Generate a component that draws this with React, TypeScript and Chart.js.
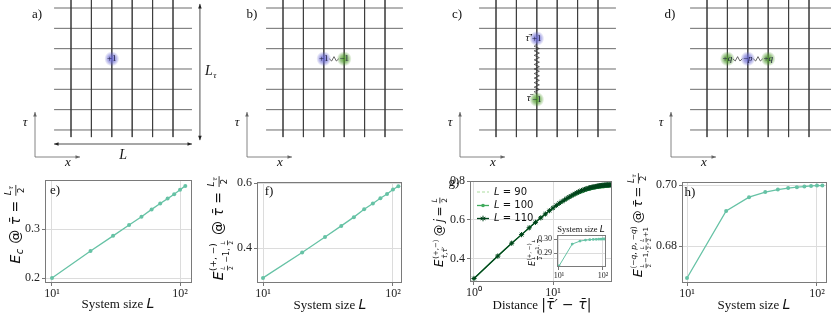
import React, { useEffect, useRef } from 'react';
import { Chart, registerables } from 'chart.js';
Chart.register(...registerables);

// ---------------- data ----------------
const SIZES = [10, 20, 30, 40, 50, 60, 70, 80, 90, 100, 110];
const E_C = [0.2, 0.255, 0.286, 0.308, 0.325, 0.34, 0.352, 0.362, 0.371, 0.38, 0.388];
const E_PM = [0.308, 0.386, 0.434, 0.468, 0.495, 0.519, 0.537, 0.553, 0.566, 0.58, 0.59];
const E_QPQ = [0.6695, 0.6915, 0.696, 0.6977, 0.6985, 0.699, 0.6993, 0.6995, 0.6997, 0.6998, 0.6998];
const E_INSET = [0.2807, 0.2964, 0.2985, 0.2992, 0.2995, 0.2997, 0.2998, 0.2999, 0.2999, 0.3, 0.3];

const DISTANCES = [1, 2, 3, 4, 5, 6, 7, 8, 9, 10, 11, 12, 13, 14, 15, 16, 17, 18, 19, 20, 21, 22, 23, 24, 25, 26, 27, 28, 29, 30, 31, 32, 33, 34, 35, 36, 37, 38, 39, 40, 41, 42, 43, 44, 45, 46, 47, 48, 49, 50, 51, 52, 53, 54, 55];
const DIST_L90 = [0.3, 0.415, 0.481, 0.525, 0.559, 0.587, 0.61, 0.629, 0.645, 0.659, 0.671, 0.681, 0.69, 0.698, 0.705, 0.711, 0.717, 0.722, 0.727, 0.731, 0.734, 0.738, 0.741, 0.743, 0.746, 0.748, 0.75, 0.752, 0.753, 0.755, 0.756, 0.757, 0.758, 0.759, 0.76, 0.761, 0.762, 0.762, 0.763, 0.763, 0.764, 0.764, 0.764, 0.765, 0.765];
const DIST_L100 = [0.3, 0.415, 0.481, 0.525, 0.56, 0.588, 0.611, 0.63, 0.647, 0.661, 0.673, 0.684, 0.693, 0.701, 0.708, 0.715, 0.721, 0.726, 0.731, 0.735, 0.739, 0.742, 0.745, 0.748, 0.751, 0.753, 0.755, 0.757, 0.759, 0.76, 0.762, 0.763, 0.764, 0.765, 0.766, 0.767, 0.768, 0.768, 0.769, 0.77, 0.77, 0.771, 0.771, 0.771, 0.772, 0.772, 0.772, 0.772, 0.772, 0.772];
const DIST_L110 = [0.3, 0.415, 0.481, 0.525, 0.56, 0.588, 0.611, 0.631, 0.648, 0.662, 0.675, 0.686, 0.695, 0.703, 0.711, 0.718, 0.724, 0.73, 0.735, 0.74, 0.744, 0.747, 0.751, 0.754, 0.756, 0.759, 0.761, 0.763, 0.765, 0.766, 0.768, 0.769, 0.77, 0.771, 0.772, 0.773, 0.774, 0.775, 0.776, 0.776, 0.777, 0.777, 0.778, 0.778, 0.779, 0.779, 0.779, 0.78, 0.78, 0.78, 0.78, 0.78, 0.78, 0.78, 0.78];
const SERIES_LABELS = ['90', '100', '110'];

const SIZE_TICKS = [10, 100];
const SIZE_TICK_LABELS = ['10¹', '10²'];
const DIST_TICKS = [1, 10];
const DIST_TICK_LABELS = ['10⁰', '10¹'];
const E_TICKS = [0.2, 0.3];
const E_TICK_LABELS = ['0.2', '0.3'];
const F_TICKS = [0.4, 0.6];
const F_TICK_LABELS = ['0.4', '0.6'];
const G_TICKS = [0.4, 0.6, 0.8];
const G_TICK_LABELS = ['0.4', '0.6', '0.8'];
const H_TICKS = [0.68, 0.7];
const H_TICK_LABELS = ['0.68', '0.70'];
const INSET_TICKS = [0.29, 0.3];
const INSET_TICK_LABELS = ['0.29', '0.30'];

// lattice (in lattice units: columns / rows counted from the top)
const LATTICE_COLS = [0, 1, 2, 3, 4, 5];
const LATTICE_ROWS = [0, 1, 2, 3, 4, 5, 6];
type Charge = { x: number; y: number; q: string; c: 'blue' | 'green' };
const CHARGES_A: Charge[] = [{ x: 2, y: 2.5, q: '+1', c: 'blue' }];
const CHARGES_B: Charge[] = [{ x: 2, y: 2.5, q: '+1', c: 'blue' }, { x: 3, y: 2.5, q: '−1', c: 'green' }];
const CHARGES_C: Charge[] = [{ x: 2, y: 1.5, q: '+1', c: 'blue' }, { x: 2, y: 4.5, q: '−1', c: 'green' }];
const CHARGES_D: Charge[] = [{ x: 1, y: 2.5, q: '+q', c: 'green' }, { x: 2, y: 2.5, q: '−p', c: 'blue' }, { x: 3, y: 2.5, q: '+q', c: 'green' }];
const SPRINGS_B = [[0, 1]];
const SPRINGS_C = [[0, 1]];
const SPRINGS_D = [[0, 1], [1, 2]];

// ---------------- styling ----------------
const SERIF = '"Liberation Serif", "Times New Roman", serif';
const SANS = '"DejaVu Sans", sans-serif';
const TEAL = '#66c2a5';
const GRID = '#dcdcdc';
const BOX = '#7a7a7a';
const G_COLORS = ['#c7e9c0', '#41ab5d', '#00441b'];

// ---------------- rich text ----------------
type Node =
  | { t: string; s: number; i?: boolean; f?: string }
  | { row: Node[] }
  | { frac: [Node, Node]; s: number }
  | { ss: [Node, Node | null, Node | null]; up: number; dn: number };
type Bx = { w: number; a: number; d: number; draw: (c: CanvasRenderingContext2D, x: number, y: number) => void };
const T = (t: string, s: number, i = false, f = SANS): Node => ({ t, s, i, f });
const R = (...row: Node[]): Node => ({ row });
const F = (a: Node, b: Node, s: number): Node => ({ frac: [a, b], s });
const SS = (b: Node, sp: Node | null, sb: Node | null, up: number, dn: number): Node => ({ ss: [b, sp, sb], up, dn });
const SP = T(' ', 8);

function lay(c: CanvasRenderingContext2D, n: Node): Bx {
  if ('t' in n) {
    const font = `${n.i ? 'italic ' : ''}${n.s}px ${n.f || SANS}`;
    c.font = font;
    const w = c.measureText(n.t).width;
    return { w, a: n.s * 0.74, d: n.s * 0.2, draw: (cc, x, y) => { cc.font = font; cc.fillText(n.t, x, y); } };
  }
  if ('row' in n) {
    const bs = n.row.map((k) => lay(c, k));
    return {
      w: bs.reduce((s, b) => s + b.w, 0),
      a: Math.max(...bs.map((b) => b.a)),
      d: Math.max(...bs.map((b) => b.d)),
      draw: (cc, x, y) => { let xx = x; for (const b of bs) { b.draw(cc, xx, y); xx += b.w; } },
    };
  }
  if ('frac' in n) {
    const nu = lay(c, n.frac[0]);
    const de = lay(c, n.frac[1]);
    const w = Math.max(nu.w, de.w) + 2;
    const ax = n.s * 0.3;
    const g = 1.2;
    return {
      w, a: ax + g + nu.a + nu.d, d: Math.max(0, -ax + g + de.a + de.d),
      draw: (cc, x, y) => {
        const yl = y - ax;
        nu.draw(cc, x + (w - nu.w) / 2, yl - g - nu.d);
        de.draw(cc, x + (w - de.w) / 2, yl + g + de.a);
        cc.fillRect(x + 0.5, yl - 0.4, w - 1, 0.8);
      },
    };
  }
  const [bn, sp, sb] = n.ss;
  const base = lay(c, bn);
  const up = sp ? lay(c, sp) : null;
  const dn = sb ? lay(c, sb) : null;
  const w = base.w + Math.max(up ? up.w : 0, dn ? dn.w : 0) + 1;
  return {
    w,
    a: Math.max(base.a, up ? n.up + up.a : 0),
    d: Math.max(base.d, dn ? n.dn + dn.d : 0),
    draw: (cc, x, y) => {
      base.draw(cc, x, y);
      if (up) up.draw(cc, x + base.w + 0.5, y - n.up);
      if (dn) dn.draw(cc, x + base.w + 0.5, y + n.dn);
    },
  };
}

function drawRich(c: CanvasRenderingContext2D, node: Node, cx: number, cy: number, rot = 0, align = 'center', color = '#111') {
  c.save();
  c.textBaseline = 'alphabetic';
  c.textAlign = 'left';
  const b = lay(c, node);
  c.translate(cx, cy);
  c.rotate(rot);
  c.fillStyle = color;
  const x0 = align === 'center' ? -b.w / 2 : align === 'right' ? -b.w : 0;
  b.draw(c, x0, (b.a - b.d) / 2);
  c.restore();
}

// ---------------- lattice panels ----------------
const DX = 20.4;
const DY = 20.33;
const Y0 = 8;
const TOP_H = 172;
const H_START = -0.83;
const V_SPAN = [-0.6, 6.35];

type Panel = { key: string; ox: number; w: number; c0: number; hEnd: number; labelX: number; charges: Charge[]; springs: number[][] };
const PANELS: Panel[] = [
  { key: 'a', ox: 0, w: 225, c0: 71, hEnd: 5.93, labelX: 37, charges: CHARGES_A, springs: [] },
  { key: 'b', ox: 210, w: 210, c0: 283, hEnd: 5.88, labelX: 252, charges: CHARGES_B, springs: SPRINGS_B },
  { key: 'c', ox: 420, w: 200, c0: 496, hEnd: 5.88, labelX: 457, charges: CHARGES_C, springs: SPRINGS_C },
  { key: 'd', ox: 620, w: 211, c0: 707, hEnd: 7, labelX: 670, charges: CHARGES_D, springs: SPRINGS_D },
];

function glow(c: CanvasRenderingContext2D, x: number, y: number, col: string) {
  const rgb = col === 'blue' ? '105,105,210' : '80,155,45';
  const g = c.createRadialGradient(x, y, 0, x, y, 7.5);
  g.addColorStop(0, `rgba(${rgb},0.95)`);
  g.addColorStop(0.55, `rgba(${rgb},0.55)`);
  g.addColorStop(1, `rgba(${rgb},0)`);
  c.fillStyle = g;
  c.beginPath();
  c.arc(x, y, 7.5, 0, Math.PI * 2);
  c.fill();
}

function zigzag(c: CanvasRenderingContext2D, x1: number, y1: number, x2: number, y2: number, amp: number) {
  const dx = x2 - x1, dy = y2 - y1;
  const len = Math.hypot(dx, dy);
  const n = Math.max(2, Math.round(len / 4.6));
  const nx = -dy / len, ny = dx / len;
  c.beginPath();
  c.moveTo(x1, y1);
  for (let k = 1; k < 2 * n; k++) {
    const t = k / (2 * n);
    const s = (k % 2 ? 1 : -1) * amp;
    c.lineTo(x1 + dx * t + nx * s, y1 + dy * t + ny * s);
  }
  c.lineTo(x2, y2);
  c.stroke();
}

function arrow(c: CanvasRenderingContext2D, x1: number, y1: number, x2: number, y2: number, both: boolean) {
  c.beginPath();
  c.moveTo(x1, y1);
  c.lineTo(x2, y2);
  c.stroke();
  const head = (x: number, y: number, ang: number) => {
    const s = 4.5;
    c.beginPath();
    c.moveTo(x, y);
    c.lineTo(x - s * Math.cos(ang) + s * 0.4 * Math.sin(ang), y - s * Math.sin(ang) - s * 0.4 * Math.cos(ang));
    c.lineTo(x - s * Math.cos(ang) - s * 0.4 * Math.sin(ang), y - s * Math.sin(ang) + s * 0.4 * Math.cos(ang));
    c.closePath();
    c.fill();
  };
  const ang = Math.atan2(y2 - y1, x2 - x1);
  head(x2, y2, ang);
  if (both) head(x1, y1, ang + Math.PI);
}

function chargeLabel(q: string): Node {
  if (q.endsWith('q') || q.endsWith('p')) return R(T(q[0], 9, false, SERIF), T(q[1], 9, true, SERIF));
  return T(q, 9, false, SERIF);
}

function latticeConfig(p: Panel) {
  const off = p.c0 - p.ox;
  const datasets: any[] = [];
  LATTICE_COLS.forEach((col) => datasets.push({ data: [{ x: col, y: V_SPAN[0] }, { x: col, y: V_SPAN[1] }] }));
  LATTICE_ROWS.forEach((row) => datasets.push({ data: [{ x: H_START, y: row }, { x: p.hEnd, y: row }] }));
  datasets.forEach((d) => Object.assign(d, { showLine: true, borderColor: '#3a3a3a', borderWidth: 0.75, pointRadius: 0 }));
  const decor = {
    id: 'decor' + p.key,
    afterDatasetsDraw(chart: any) {
      const c: CanvasRenderingContext2D = chart.ctx;
      const xs = chart.scales.x, ys = chart.scales.y;
      const px = (v: number) => xs.getPixelForValue(v);
      const py = (v: number) => ys.getPixelForValue(v);
      c.save();
      p.charges.forEach((q) => glow(c, px(q.x), py(q.y), q.c));
      c.strokeStyle = '#2a2a2a';
      c.lineWidth = 0.7;
      p.springs.forEach(([i, j]) => {
        const a = p.charges[i], b = p.charges[j];
        const x1 = px(a.x), y1 = py(a.y), x2 = px(b.x), y2 = py(b.y);
        const len = Math.hypot(x2 - x1, y2 - y1);
        const ux = (x2 - x1) / len, uy = (y2 - y1) / len;
        zigzag(c, x1 + ux * 5.5, y1 + uy * 5.5, x2 - ux * 5.5, y2 - uy * 5.5, p.key === 'c' ? 2.6 : 2.2);
      });
      p.charges.forEach((q) => drawRich(c, chargeLabel(q.q), px(q.x), py(q.y), 0, 'center', '#1c1c3c'));
      if (p.key === 'c') {
        drawRich(c, T('τ̄′', 11, true, SERIF), px(p.charges[0].x) - 5, py(p.charges[0].y), 0, 'right');
        drawRich(c, T('τ̄', 11, true, SERIF), px(p.charges[1].x) - 6, py(p.charges[1].y) - 1, 0, 'right');
      }
      drawRich(c, T(p.key + ')', 13, false, SERIF), p.labelX - p.ox, 14);
      c.strokeStyle = '#666';
      c.fillStyle = '#666';
      c.lineWidth = 0.8;
      const cx0 = px(-36 / DX), cy0 = py((157 - Y0) / DY);
      arrow(c, cx0, cy0, cx0, py((112 - Y0) / DY), false);
      arrow(c, cx0, cy0, px(45 / DX - 36 / DX), cy0, false);
      drawRich(c, T('τ', 13, true, SERIF), cx0 - 10, py((122 - Y0) / DY));
      drawRich(c, T('x', 13, true, SERIF), cx0 + 33, py((162 - Y0) / DY));
      if (p.key === 'a') {
        c.strokeStyle = '#222';
        c.fillStyle = '#222';
        arrow(c, px(6.32), py(-0.2), px(6.32), py(6.5), true);
        arrow(c, px(H_START), py(6.69), px(p.hEnd), py(6.69), true);
        drawRich(c, T('L', 14, true, SERIF), px(2.55), py(7.25));
        drawRich(c, SS(T('L', 14, true, SERIF), null, T('τ', 9, true, SERIF), 0, 3), px(6.32) + 11, py(3.15));
      }
      c.restore();
    },
  };
  return {
    type: 'scatter',
    data: { datasets },
    options: {
      animation: false, responsive: false, events: [],
      layout: { padding: 0 },
      plugins: { legend: { display: false }, tooltip: { enabled: false } },
      scales: {
        x: { type: 'linear', display: false, min: -off / DX, max: (p.w - off) / DX },
        y: { type: 'linear', display: false, reverse: true, min: -Y0 / DY, max: (TOP_H - Y0) / DY },
      },
    },
    plugins: [decor],
  };
}

// ---------------- data plots ----------------
type Rect = { left: number; top: number; w: number; h: number };
type BoxR = { l: number; t: number; r: number; b: number };
type PlotSpec = {
  rect: Rect; box: BoxR; xMin: number; xMax: number; yMin: number; yMax: number;
  xTicks: number[]; xLabels: string[]; yTicks: number[]; yLabels: string[];
  tickSize: number; datasets: any[]; white?: boolean; extra: (c: CanvasRenderingContext2D, rect: Rect) => void;
};

function plotConfig(p: PlotSpec) {
  const { rect, box } = p;
  const decor = {
    id: 'plotdecor',
    beforeDraw(chart: any) {
      if (!p.white) return;
      const a = chart.chartArea;
      chart.ctx.save();
      chart.ctx.fillStyle = '#fff';
      chart.ctx.fillRect(a.left, a.top, a.right - a.left, a.bottom - a.top);
      chart.ctx.restore();
    },
    afterDraw(chart: any) {
      const c: CanvasRenderingContext2D = chart.ctx;
      const a = chart.chartArea;
      c.save();
      c.strokeStyle = BOX;
      c.lineWidth = 1;
      c.strokeRect(Math.round(a.left) + 0.5, Math.round(a.top) + 0.5, Math.round(a.right - a.left) - 1, Math.round(a.bottom - a.top) - 1);
      p.extra(c, rect);
      c.restore();
    },
  };
  const tickFont = { family: SERIF, size: p.tickSize };
  return {
    type: 'scatter',
    data: { datasets: p.datasets },
    options: {
      animation: false, responsive: false, events: [],
      layout: { padding: { left: 0, top: box.t - rect.top, right: rect.left + rect.w - box.r, bottom: 0 } },
      plugins: { legend: { display: false }, tooltip: { enabled: false } },
      scales: {
        x: {
          type: 'logarithmic', min: p.xMin, max: p.xMax,
          afterBuildTicks: (s: any) => { s.ticks = p.xTicks.map((v) => ({ value: v })); },
          afterFit: (s: any) => { s.height = rect.top + rect.h - box.b; },
          ticks: { callback: (_v: any, i: number) => p.xLabels[i], font: tickFont, color: '#222', padding: 1, autoSkip: false, maxRotation: 0 },
          grid: { color: GRID, lineWidth: 1, tickLength: 3, tickColor: '#777' },
          border: { display: false },
        },
        y: {
          type: 'linear', min: p.yMin, max: p.yMax,
          afterBuildTicks: (s: any) => { s.ticks = p.yTicks.map((v) => ({ value: v })); },
          afterFit: (s: any) => { s.width = box.l - rect.left; },
          ticks: { callback: (_v: any, i: number) => p.yLabels[i], font: tickFont, color: '#222', padding: 2, autoSkip: false },
          grid: { color: GRID, lineWidth: 1, tickLength: 3, tickColor: '#777' },
          border: { display: false },
        },
      },
    },
    plugins: [decor],
  };
}

const lineSet = (ys: number[], xs: number[], color: string, extra: any = {}) => ({
  data: ys.map((y, i) => ({ x: xs[i], y })),
  showLine: true, borderColor: color, backgroundColor: color, borderWidth: 1.3,
  pointRadius: 2, pointBorderWidth: 0, ...extra,
});

const Ltau = (s: number) => SS(T('L', s, true), null, T('τ', s * 0.7, true), 0, s * 0.25);
const half = (s: number) => F(T('L', s, true), T('2', s), s);
const sizeTitle = R(T('System size ', 13, false, SERIF), T('L', 14, true));

const LABEL_E = R(SS(T('E', 14, true), null, T('c', 10, true), 0, 3), T(' @ ', 14), T('τ̄', 14, true), T(' = ', 14), F(Ltau(9), T('2', 9), 14));
const LABEL_F = R(
  SS(T('E', 14, true), T('(+, −)', 9), R(half(6), T(' −1, ', 8), half(6)), 7, 6),
  T(' @ ', 14), T('τ̄', 14, true), T(' = ', 14), F(Ltau(9), T('2', 9), 14));
const LABEL_G = R(
  SS(T('E', 12, true), T('(+,−)', 7), T('τ̄,τ̄′', 7, true), 5.5, 3.5),
  SP, T('@', 11.5), SP, T('j', 12, true), SP, T('=', 12), SP, F(T('L', 7.5, true), T('2', 7.5), 12));
const LABEL_H = R(
  SS(T('E', 13, true), R(T('(−', 7.5), T('q', 7.5, true), T(', ', 7.5), T('p', 7.5, true), T(', −', 7.5), T('q', 7.5, true), T(')', 7.5)),
    R(half(5.5), T('−1,', 7), half(5.5), T(',', 7), half(5.5), T('+1', 7)), 6.5, 5.5),
  SP, T('@', 13), SP, T('τ̄', 13, true), SP, T('=', 13), SP, F(Ltau(8.5), T('2', 8.5), 13));
const LABEL_INSET = R(SS(T('E', 8, true), T('(+, −)', 5.5), R(half(4.5), T(' −1, ', 5), half(4.5)), 4, 3.5));
const DIST_TITLE = R(T('Distance ', 13, false, SERIF), T('|', 14), T('τ̄′', 14, true), T(' − ', 14), T('τ̄', 14, true), T('|', 14));

const BTOP = 158;
const PLOTS: PlotSpec[] = [
  {
    rect: { left: 0, top: BTOP, w: 205, h: 316 - BTOP }, box: { l: 45, t: 180, r: 192, b: 283 },
    xMin: 8.82, xMax: 124, yMin: 0.1898, yMax: 0.4,
    xTicks: SIZE_TICKS, xLabels: SIZE_TICK_LABELS, yTicks: E_TICKS, yLabels: E_TICK_LABELS, tickSize: 12,
    datasets: [lineSet(E_C, SIZES, TEAL)],
    extra: (c, r) => {
      drawRich(c, LABEL_E, 15 - r.left, 224 - r.top, -Math.PI / 2);
      drawRich(c, sizeTitle, 118 - r.left, 304 - r.top);
      drawRich(c, T('e)', 13, false, SERIF), 55 - r.left, 190 - r.top);
    },
  },
  {
    rect: { left: 205, top: BTOP, w: 205, h: 316 - BTOP }, box: { l: 257, t: 182, r: 402, b: 283 },
    xMin: 8.99, xMax: 117.3, yMin: 0.2923, yMax: 0.6031,
    xTicks: SIZE_TICKS, xLabels: SIZE_TICK_LABELS, yTicks: F_TICKS, yLabels: F_TICK_LABELS, tickSize: 12,
    datasets: [lineSet(E_PM, SIZES, TEAL)],
    extra: (c, r) => {
      drawRich(c, LABEL_F, 221 - r.left, 228 - r.top, -Math.PI / 2);
      drawRich(c, sizeTitle, 330 - r.left, 305 - r.top);
      drawRich(c, T('f)', 13, false, SERIF), 269 - r.left, 191 - r.top);
    },
  },
  {
    rect: { left: 410, top: BTOP, w: 210, h: 316 - BTOP }, box: { l: 470, t: 181, r: 612, b: 282 },
    xMin: 0.89, xMax: 55.8, yMin: 0.282, yMax: 0.8,
    xTicks: DIST_TICKS, xLabels: DIST_TICK_LABELS, yTicks: G_TICKS, yLabels: G_TICK_LABELS, tickSize: 12,
    datasets: [
      lineSet(DIST_L90, DISTANCES, G_COLORS[0], { borderDash: [3, 2], pointRadius: 0, order: 3, borderWidth: 1.2 }),
      lineSet(DIST_L100, DISTANCES, G_COLORS[1], { pointRadius: 1.6, order: 2, borderWidth: 1.3 }),
      lineSet(DIST_L110, DISTANCES, G_COLORS[2], { pointStyle: 'star', pointRadius: 2.6, pointBorderWidth: 1, order: 1, borderWidth: 1.3 }),
    ],
    extra: (c, r) => {
      drawRich(c, LABEL_G, 440 - r.left, 232 - r.top, -Math.PI / 2);
      drawRich(c, DIST_TITLE, 542 - r.left, 305 - r.top);
      drawRich(c, T('g)', 13, false, SERIF), 454 - r.left, 182 - r.top);
      const ys = [192, 205.5, 218.5];
      SERIES_LABELS.forEach((lab, k) => {
        const y = ys[k] - r.top;
        const x1 = 477 - r.left, x2 = 489 - r.left;
        c.save();
        c.strokeStyle = G_COLORS[k];
        c.fillStyle = G_COLORS[k];
        c.lineWidth = 1.3;
        if (k === 0) c.setLineDash([3, 2]);
        c.beginPath(); c.moveTo(x1, y); c.lineTo(x2, y); c.stroke();
        c.setLineDash([]);
        if (k === 1) { c.beginPath(); c.arc((x1 + x2) / 2, y, 1.8, 0, Math.PI * 2); c.fill(); }
        if (k === 2) {
          const m = (x1 + x2) / 2;
          c.lineWidth = 1;
          for (let a = 0; a < 3; a++) {
            const ang = (a * Math.PI) / 3 + Math.PI / 2;
            c.beginPath(); c.moveTo(m + 2.8 * Math.cos(ang), y + 2.8 * Math.sin(ang)); c.lineTo(m - 2.8 * Math.cos(ang), y - 2.8 * Math.sin(ang)); c.stroke();
          }
        }
        c.restore();
        drawRich(c, R(T('L', 10, true), T(' = ' + lab, 10)), 494 - r.left, y, 0, 'left');
      });
    },
  },
  {
    rect: { left: 620, top: BTOP, w: 211, h: 316 - BTOP }, box: { l: 682, t: 182, r: 827, b: 283 },
    xMin: 9.15, xMax: 119.4, yMin: 0.66787, yMax: 0.700984,
    xTicks: SIZE_TICKS, xLabels: SIZE_TICK_LABELS, yTicks: H_TICKS, yLabels: H_TICK_LABELS, tickSize: 12,
    datasets: [lineSet(E_QPQ, SIZES, TEAL)],
    extra: (c, r) => {
      drawRich(c, LABEL_H, 640 - r.left, 225 - r.top, -Math.PI / 2);
      drawRich(c, sizeTitle, 754 - r.left, 305 - r.top);
      drawRich(c, T('h)', 13, false, SERIF), 690 - r.left, 192 - r.top);
    },
  },
  {
    rect: { left: 525, top: 222, w: 95, h: 58 }, box: { l: 557, t: 235, r: 606, b: 267 },
    xMin: 9.01, xMax: 117, yMin: 0.28, yMax: 0.30286,
    xTicks: SIZE_TICKS, xLabels: SIZE_TICK_LABELS, yTicks: INSET_TICKS, yLabels: INSET_TICK_LABELS, tickSize: 8,
    white: true,
    datasets: [lineSet(E_INSET, SIZES, TEAL, { pointRadius: 1.4, borderWidth: 1 })],
    extra: (c, r) => {
      drawRich(c, LABEL_INSET, 535 - r.left, 252 - r.top, -Math.PI / 2);
      drawRich(c, R(T('System size ', 8.5, false, SERIF), T('L', 9, true)), 581 - r.left, 230 - r.top);
    },
  },
];

function ChartCanvas({ rect, config }: { rect: Rect; config: any }) {
  const ref = useRef<HTMLCanvasElement>(null);
  useEffect(() => {
    const chart = new Chart(ref.current as HTMLCanvasElement, config);
    return () => chart.destroy();
  }, []);
  return (
    <canvas
      ref={ref}
      width={rect.w}
      height={rect.h}
      style={{ position: 'absolute', left: rect.left, top: rect.top, width: rect.w, height: rect.h }}
    />
  );
}

export default function App() {
  return (
    <div style={{ position: 'fixed', left: 0, top: 0, width: 831, height: 316, background: '#fff', overflow: 'hidden' }}>
      {PANELS.map((p) => (
        <ChartCanvas key={p.key} rect={{ left: p.ox, top: 0, w: p.w, h: TOP_H }} config={latticeConfig(p)} />
      ))}
      {PLOTS.map((p, i) => (
        <ChartCanvas key={'p' + i} rect={p.rect} config={plotConfig(p)} />
      ))}
    </div>
  );
}
